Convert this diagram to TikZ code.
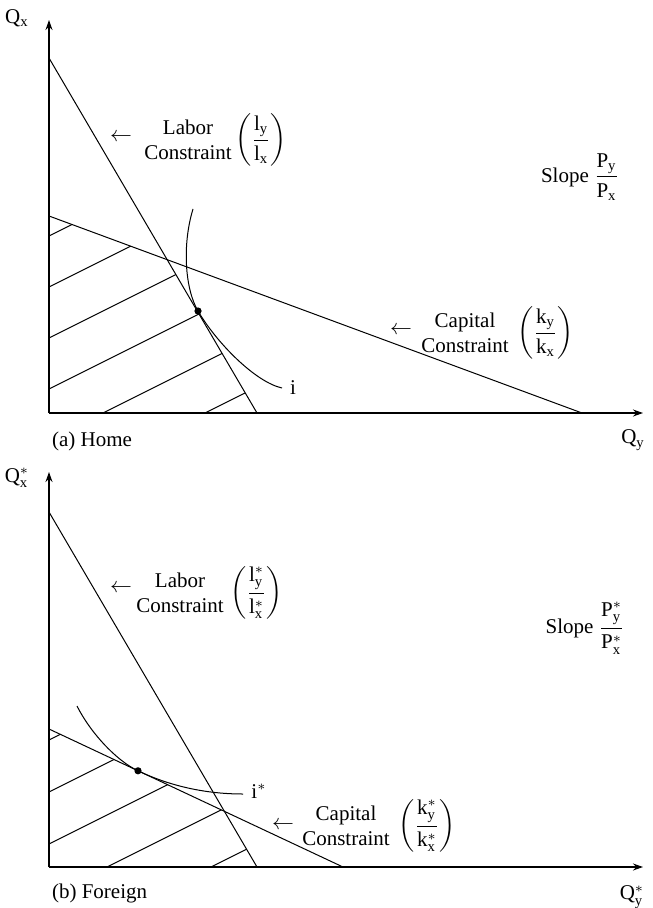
\documentclass[tikz,border=0pt]{standalone}
\usepackage{amsmath}
\usepackage{fontspec}
\setmainfont{Liberation Serif}
\usetikzlibrary{positioning}
\usetikzlibrary{arrows.meta}

\newcommand{\rmsub}[2]{\mathrm{#1}_{\mathrm{#2}}}
\newcommand{\rmstar}[2]{\mathrm{#1}^{*}_{\mathrm{#2}}}

\begin{document}
\begin{tikzpicture}[x=0.5pt, y=-0.5pt, font=\fontsize{10.5}{12.4}\selectfont]
\tikzset{axis/.style={line width=0.6pt, arrows={-Stealth[length=5pt,width=3.5pt]}},
         curve/.style={line width=0.5pt},
         lbl/.style={inner sep=0pt, align=center},
         frac/.style={inner sep=0pt}}
\useasboundingbox (0,0) rectangle (652,908);

% (a) Home
\coordinate (O) at (49,413);
\coordinate (L1) at (49,58);
\coordinate (L2) at (257,413);
\coordinate (K1) at (49,216);
\coordinate (K2) at (582,413);
\coordinate (KL) at (intersection of L1--L2 and K1--K2);
\coordinate (E) at (198,311);

\begin{scope}
\clip (O) -- (K1) -- (KL) -- (L2) -- cycle;
\foreach \c in {236,287,338,389,440,491}
  \draw [curve] (49,\c) -- ++(400,-200);
\end{scope}

\draw [axis] (O) -- (49,20);
\draw [axis] (O) -- (643,413);
\draw [curve] (L1) -- (L2);
\draw [curve] (K1) -- (K2);
\draw [curve] (193,209) .. controls (182,245) and (185,289) .. (E)
  .. controls (216,342) and (255,382) .. (282,388);
\fill (E) circle [radius=1.8pt];

\node (qx) at (17,18) {$\rmsub{Q}{x}$};
\node (qy) at (633,440) {$\rmsub{Q}{y}$};
\node (home) [anchor=west] at (45,441) {(a) Home};
\node (ilab) at (293,388) {i};
\node (labtop) [lbl] at (188,140) {Labor\\Constraint};
\node (labfrac) [frac, right=1.5pt of labtop] {$\left(\dfrac{\rmsub{l}{y}}{\rmsub{l}{x}}\right)$};
\node (labarr) at (121,137) {$\leftarrow$};
\node (slopetop) at (580,177) {Slope $\dfrac{\rmsub{P}{y}}{\rmsub{P}{x}}$};
\node (captop) [lbl] at (465,333) {Capital\\Constraint};
\node (capfrac) [frac, right=4pt of captop] {$\left(\dfrac{\rmsub{k}{y}}{\rmsub{k}{x}}\right)$};
\node (caparr) at (401,330) {$\leftarrow$};

% (b) Foreign
\coordinate (Ob) at (49,867);
\coordinate (Lb1) at (49,512);
\coordinate (Lb2) at (257,867);
\coordinate (Kb1) at (49,729);
\coordinate (Kb2) at (343,867);
\coordinate (KLb) at (intersection of Lb1--Lb2 and Kb1--Kb2);
\coordinate (Eb) at (138,770.8);

\begin{scope}
\clip (Ob) -- (Kb1) -- (KLb) -- (Lb2) -- cycle;
\foreach \c in {740,792,844,896,948}
  \draw [curve] (49,\c) -- ++(400,-200);
\end{scope}

\draw [axis] (Ob) -- (49,472);
\draw [axis] (Ob) -- (643,867);
\draw [curve] (Lb1) -- (Lb2);
\draw [curve] (Kb1) -- (Kb2);
\draw [curve] (77,706) .. controls (90,732) and (116,760.5) .. (Eb)
  .. controls (172,787) and (208,794) .. (243,794);
\fill (Eb) circle [radius=1.8pt];

\node (qxb) at (17,478) {$\rmstar{Q}{x}$};
\node (qyb) at (632,897) {$\rmstar{Q}{y}$};
\node (foreign) [anchor=west] at (45,893) {(b) Foreign};
\node (iblab) at (259,791) {i$^{*}$};
\node (labbot) [lbl] at (180,593) {Labor\\Constraint};
\node (labbfrac) [frac, right=3pt of labbot] {$\left(\dfrac{\rmstar{l}{y}}{\rmstar{l}{x}}\right)$};
\node (labbarr) at (121,588) {$\leftarrow$};
\node (slopebot) at (585,628) {Slope $\dfrac{\rmstar{P}{y}}{\rmstar{P}{x}}$};
\node (capbot) [lbl] at (346,826) {Capital\\Constraint};
\node (capbfrac) [frac, right=4pt of capbot] {$\left(\dfrac{\rmstar{k}{y}}{\rmstar{k}{x}}\right)$};
\node (capbarr) at (283,825) {$\leftarrow$};

\end{tikzpicture}
\end{document}
